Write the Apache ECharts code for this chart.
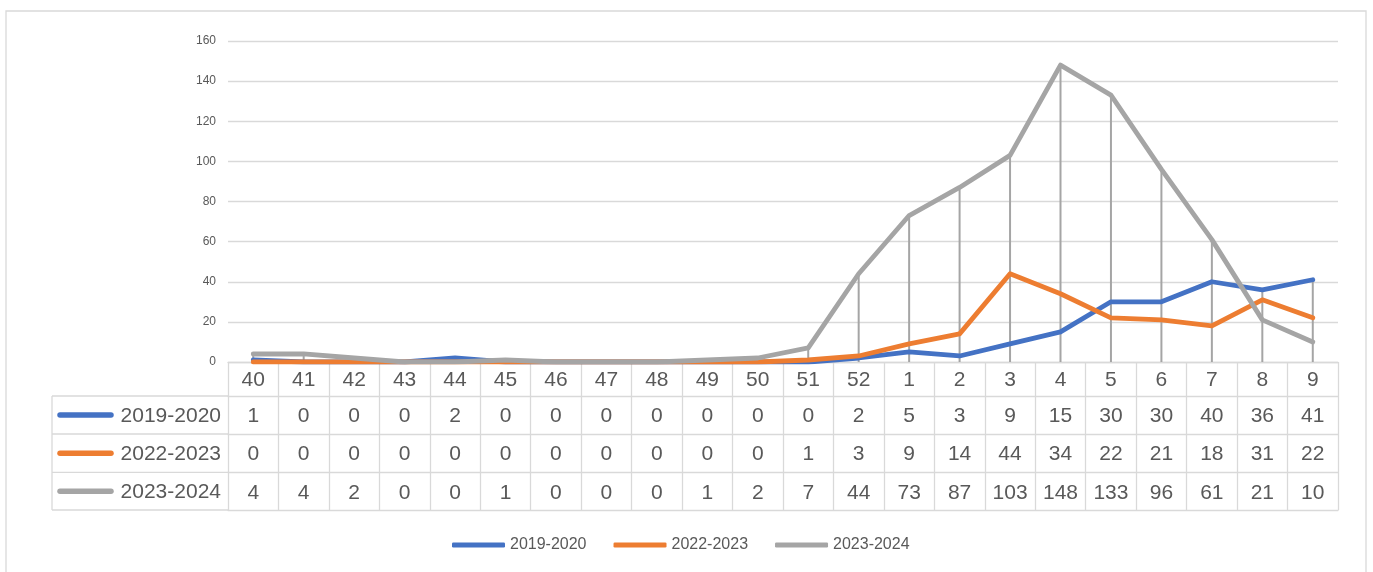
<!DOCTYPE html>
<html>
<head>
<meta charset="utf-8">
<script src="https://cdn.jsdelivr.net/npm/echarts@6/dist/echarts.min.js"></script>
<style>
html,body{margin:0;padding:0;background:#fff;}
#chart{width:1373px;height:572px;}
</style>
</head>
<body>
<div id="chart"></div>
<script>
const categories = ['40','41','42','43','44','45','46','47','48','49','50','51','52','1','2','3','4','5','6','7','8','9'];
const seriesNames = ['2019-2020','2022-2023','2023-2024'];
const s2019 = [1,0,0,0,2,0,0,0,0,0,0,0,2,5,3,9,15,30,30,40,36,41];
const s2022 = [0,0,0,0,0,0,0,0,0,0,0,1,3,9,14,44,34,22,21,18,31,22];
const s2023 = [4,4,2,0,0,1,0,0,0,1,2,7,44,73,87,103,148,133,96,61,21,10];
const yTicks = [0,20,40,60,80,100,120,140,160];

const colors = ['#4472C4','#ED7D31','#A5A5A5'];
const seriesData = [s2019, s2022, s2023];
const dropLines = categories.map((c,i)=>Math.max(s2019[i], s2022[i], s2023[i]));

const FONT = 'Liberation Sans, Arial, sans-serif';
const TXT = '#595959';
const GRID = '#D9D9D9';

const chart = echarts.init(document.getElementById('chart'));

const rowOffsets = [34, 72, 110.3];
const valueAxes = seriesData.map((arr, k) => ({
  type: 'category',
  gridIndex: 0,
  position: 'bottom',
  offset: rowOffsets[k],
  data: categories,
  boundaryGap: true,
  axisLine: {show: true, lineStyle: {color: GRID, width: 1.3}},
  axisTick: {show: false},
  axisLabel: {
    interval: 0, margin: 10, fontSize: 21, color: TXT, fontFamily: FONT,
    formatter: (v, idx) => String(arr[idx])
  },
  splitLine: {show: false}
}));

const leftGraphics = [];
const rowLines = [396, 434, 472.3, 510];
rowLines.forEach(y => leftGraphics.push({
  type: 'line', shape: {x1: 52, y1: y, x2: 228, y2: y},
  style: {stroke: GRID, lineWidth: 1.3}, silent: true
}));
leftGraphics.push({
  type: 'line', shape: {x1: 52, y1: 396, x2: 52, y2: 510},
  style: {stroke: GRID, lineWidth: 1.3}, silent: true
});
seriesNames.forEach((name, k) => {
  const yc = (rowLines[k] + rowLines[k+1]) / 2;
  leftGraphics.push({
    type: 'line', shape: {x1: 60, y1: yc, x2: 111, y2: yc},
    style: {stroke: colors[k], lineWidth: 5.5, lineCap: 'round'}, silent: true
  });
  leftGraphics.push({
    type: 'text', x: 221, y: yc + 1,
    style: {text: name, fontSize: 21, fontFamily: FONT, fill: TXT, align: 'right', verticalAlign: 'middle'},
    silent: true
  });
});
leftGraphics.push({
  type: 'rect', shape: {x: 6, y: 11, width: 1360, height: 575},
  style: {fill: 'none', stroke: GRID, lineWidth: 1.3}, silent: true, z: -10
});

const option = {
  animation: false,
  backgroundColor: '#fff',
  grid: {left: 228, right: 35, top: 41, bottom: 210, containLabel: false},
  legend: {
    data: seriesNames,
    left: 447, top: 532,
    icon: 'roundRect',
    itemWidth: 53, itemHeight: 5,
    itemGap: 27,
    textStyle: {fontSize: 16, color: TXT, fontFamily: FONT}
  },
  xAxis: [
    {
      type: 'category',
      data: categories,
      boundaryGap: true,
      axisLine: {show: true, lineStyle: {color: GRID, width: 1.3}},
      axisTick: {show: true, interval: 0, length: 148, lineStyle: {color: GRID, width: 1.3}},
      axisLabel: {interval: 0, margin: 8, fontSize: 21, color: TXT, fontFamily: FONT},
      splitLine: {show: false}
    },
    ...valueAxes,
    {
      type: 'category', position: 'bottom', offset: 148, data: categories,
      axisLine: {show: true, lineStyle: {color: GRID, width: 1.3}},
      axisTick: {show: false}, axisLabel: {show: false}
    }
  ],
  yAxis: {
    type: 'value', min: yTicks[0], max: yTicks[yTicks.length-1], interval: 20,
    axisLine: {show: false}, axisTick: {show: false},
    axisLabel: {margin: 12, fontSize: 12, color: TXT, fontFamily: FONT},
    splitLine: {lineStyle: {color: GRID, width: 1.3}}
  },
  graphic: leftGraphics,
  series: [
    {
      type: 'bar', name: 'drop', data: dropLines, barWidth: 2,
      itemStyle: {color: '#A5A5A5'}, z: 1, silent: true
    },
    ...seriesNames.map((n, k) => ({
      type: 'line', name: n, data: seriesData[k],
      symbol: 'none', z: 3 + k,
      lineStyle: {color: colors[k], width: 4.8, cap: 'round', join: 'round'},
      itemStyle: {color: colors[k]}
    }))
  ]
};
chart.setOption(option);
</script>
</body>
</html>
